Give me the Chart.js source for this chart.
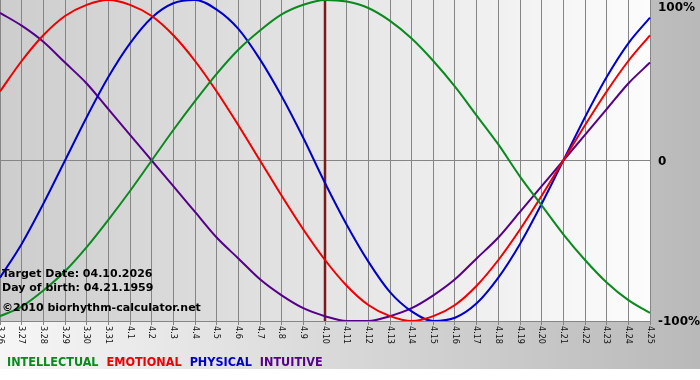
<!DOCTYPE html>
<html>
<head>
<meta charset="utf-8">
<script src="https://cdn.jsdelivr.net/npm/chart.js@4"></script>
<style>
  html, body { margin: 0; padding: 0; background: #fff; }
  canvas { display: block; }
</style>
</head>
<body>
<canvas id="chart" width="700" height="380"></canvas>
<script>
// -----------------------------
// Data (percent, one value per day)
// -----------------------------
const days = ["3.26", "3.27", "3.28", "3.29", "3.30", "3.31", "4.1", "4.2", "4.3", "4.4",
  "4.5", "4.6", "4.7", "4.8", "4.9", "4.10", "4.11", "4.12", "4.13", "4.14", "4.15",
  "4.16", "4.17", "4.18", "4.19", "4.20", "4.21", "4.22", "4.23", "4.24", "4.25"]

const intellectual = [-97, -91, -81, -69, -54, -37, -19, 0, 19, 37, 54, 69, 81, 91, 97,
  100, 99, 95, 87, 76, 62, 46, 28, 10, -10, -28, -46, -62, -76, -87, -95]
const emotional = [43, 62, 78, 90, 97, 100, 97, 90, 78, 62, 43, 22, 0, -22, -43,
  -62, -78, -90, -97, -100, -97, -90, -78, -62, -43, -22, 0, 22, 43, 62, 78]
const physical = [-73, -52, -27, 0, 27, 52, 73, 89, 98, 100, 94, 82, 63, 40, 14,
  -14, -40, -63, -82, -94, -100, -98, -89, -73, -52, -27, 0, 27, 52, 73, 89]
const intuitive = [92, 84, 74, 61, 48, 32, 16, 0, -16, -32, -48, -61, -74, -84, -92,
  -97, -100, -100, -97, -92, -84, -74, -61, -48, -32, -16, 0, 16, 32, 48, 61]

const seriesNames = ["INTELLECTUAL", "EMOTIONAL", "PHYSICAL", "INTUITIVE"]
const seriesColors = ["#0a8a1e", "#ee0000", "#0000cc", "#55008a"]

const targetDay = "4.10"
const yTicks = [100, 0, -100]
const yTickLabels = ["100%", "0", "-100%"]
const infoLines = ["Target Date: 04.10.2026", "Day of birth: 04.21.1959", "©2010 biorhythm-calculator.net"]

const GRID = "#858585"

// -----------------------------
// Backgrounds
// -----------------------------
const backgroundPlugin = {
  id: "backgrounds",
  beforeDraw(chart) {
    const { ctx, chartArea: a, width, height } = chart
    ctx.save()
    ctx.fillStyle = "#fff"
    ctx.fillRect(0, 0, width, height)
    let g = ctx.createLinearGradient(0, 0, width, 0)
    g.addColorStop(0, "#f6f6f6")
    g.addColorStop(1, "#b9b9b9")
    ctx.fillStyle = g
    ctx.fillRect(0, 0, width, 369)
    g = ctx.createLinearGradient(a.left, 0, a.right, 0)
    g.addColorStop(0, "#cdcdcd")
    g.addColorStop(1, "#fcfcfc")
    ctx.fillStyle = g
    ctx.fillRect(a.left, a.top, a.right - a.left, a.bottom - a.top)
    ctx.restore()
  }
}

// target date line (drawn under the curves)
const targetPlugin = {
  id: "target",
  beforeDatasetsDraw(chart) {
    const { ctx, chartArea: a, scales } = chart
    const x = scales.x.getPixelForValue(days.indexOf(targetDay))
    ctx.save()
    ctx.strokeStyle = "#7a1c1c"
    ctx.lineWidth = 2.5
    ctx.beginPath()
    ctx.moveTo(x, a.top)
    ctx.lineTo(x, a.bottom)
    ctx.stroke()
    ctx.restore()
  }
}

// tick labels, info text and coloured legend
const labelsPlugin = {
  id: "labels",
  afterDraw(chart) {
    const { ctx, chartArea: a, scales } = chart
    ctx.save()

    // rotated day labels (read top to bottom)
    ctx.fillStyle = "#111"
    ctx.font = "9px 'DejaVu Sans Condensed', 'Liberation Sans', sans-serif"
    ctx.textAlign = "left"
    ctx.textBaseline = "middle"
    days.forEach((d, i) => {
      const x = scales.x.getPixelForValue(i)
      ctx.save()
      ctx.translate(x, a.bottom + 5)
      ctx.rotate(Math.PI / 2)
      ctx.fillText(d, 0, 0)
      ctx.restore()
    })

    // right axis labels
    ctx.font = "bold 12px 'DejaVu Sans', sans-serif"
    ctx.fillStyle = "#000"
    yTicks.forEach((v, i) => {
      const y = Math.max(scales.y.getPixelForValue(v), a.top + 7)
      ctx.fillText(yTickLabels[i], a.right + 8, y + 1)
    })

    // info text
    ctx.font = "bold 11px 'DejaVu Sans', sans-serif"
    ctx.textBaseline = "alphabetic"
    ctx.fillText(infoLines[0], 2, 277)
    ctx.fillText(infoLines[1], 2, 291)
    ctx.fillText(infoLines[2], 2, 311)

    // legend
    ctx.font = "bold 12.5px 'DejaVu Sans Condensed', 'Liberation Sans', sans-serif"
    let lx = 7
    seriesNames.forEach((name, i) => {
      ctx.fillStyle = seriesColors[i]
      ctx.fillText(name, lx, 366)
      lx += ctx.measureText(name).width + 8
    })
    ctx.restore()
  }
}

const series = [intellectual, emotional, physical, intuitive]

new Chart(document.getElementById("chart"), {
  type: "line",
  data: {
    labels: days,
    datasets: series.map((values, i) => ({
      label: seriesNames[i],
      data: values,
      borderColor: seriesColors[i],
      borderWidth: 2,
      pointRadius: 0,
      cubicInterpolationMode: "monotone",
      fill: false
    }))
  },
  options: {
    responsive: false,
    animation: false,
    devicePixelRatio: 1,
    layout: { padding: 0 },
    plugins: {
      legend: { display: false },
      tooltip: { enabled: false }
    },
    scales: {
      x: {
        offset: false,
        grid: { color: GRID, lineWidth: 1, drawTicks: true, tickLength: 4 },
        border: { display: true, color: GRID },
        ticks: { display: false },
        afterFit(scale) { scale.height = 59 }
      },
      y: {
        position: "right",
        min: -100,
        max: 100,
        grid: {
          color: ctx => (ctx.tick && ctx.tick.value === 100 ? "rgba(0,0,0,0)" : GRID),
          drawTicks: false
        },
        border: { display: false },
        ticks: { display: false, stepSize: 100 },
        afterFit(scale) { scale.width = 50 }
      }
    }
  },
  plugins: [backgroundPlugin, targetPlugin, labelsPlugin]
})
</script>
</body>
</html>
